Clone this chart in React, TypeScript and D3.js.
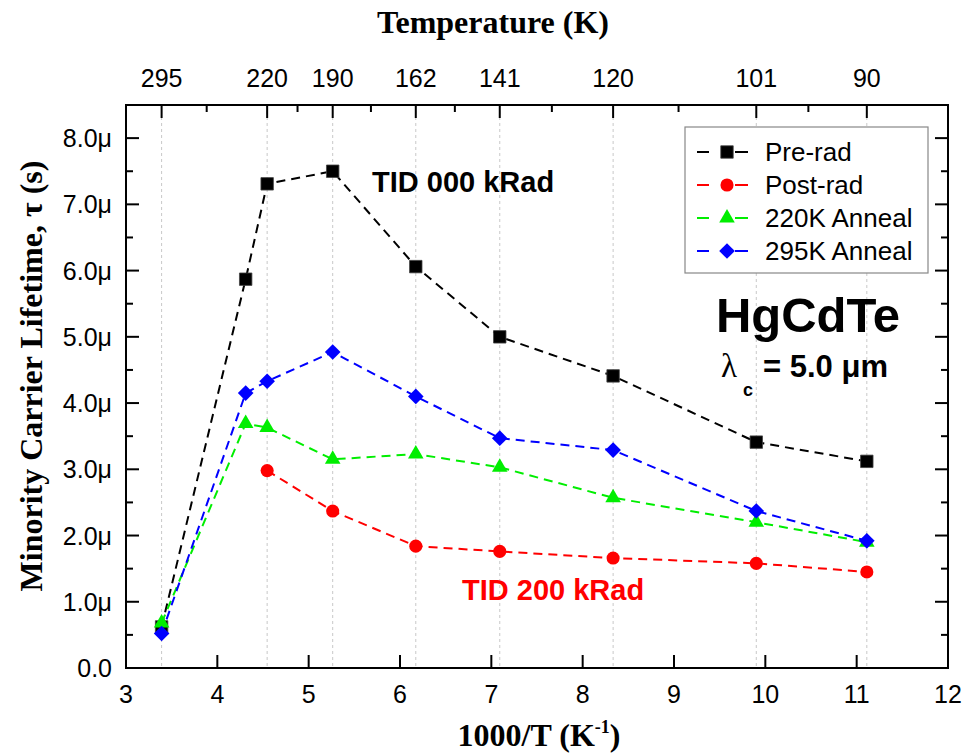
import React from 'react';
import * as d3 from 'd3';

// ---- Data (τ in μs, temperature in K) ----
const preRadT = [295, 232, 220, 190, 162, 141, 120, 101, 90];
const preRadTau = [0.62, 5.87, 7.31, 7.5, 6.06, 5.0, 4.41, 3.41, 3.12];
const postRadT = [220, 190, 162, 141, 120, 101, 90];
const postRadTau = [2.98, 2.37, 1.84, 1.76, 1.66, 1.58, 1.45];
const anneal220T = [295, 232, 220, 190, 162, 141, 120, 101, 90];
const anneal220Tau = [0.68, 3.69, 3.63, 3.15, 3.23, 3.03, 2.57, 2.2, 1.9];
const anneal295T = [295, 232, 220, 190, 162, 141, 120, 101, 90];
const anneal295Tau = [0.52, 4.15, 4.33, 4.77, 4.1, 3.47, 3.29, 2.37, 1.92];

const topMajorTemps = [295, 220, 190, 162, 141, 120, 101, 90];
const topMinorTemps = [257.5, 205, 176, 151.5, 130.5, 110.5, 95.5];
const bottomTicks = [3, 4, 5, 6, 7, 8, 9, 10, 11, 12];
const yMajor = [0, 1, 2, 3, 4, 5, 6, 7, 8];
const yMinor = [0.5, 1.5, 2.5, 3.5, 4.5, 5.5, 6.5, 7.5];

const seriesNames = ['Pre-rad', 'Post-rad', '220K Anneal', '295K Anneal'];
const seriesColors = ['#000000', '#ff0000', '#00ee00', '#0000ff'];

const W = 969, H = 754;
const L = 126, R = 948, T = 105, B = 668;

export default function App() {
  const x = d3.scaleLinear().domain([3, 12]).range([L, R]);
  const y = d3.scaleLinear().domain([0, 8.5]).range([B, T]);

  const series = [
    { t: preRadT, v: preRadTau, sym: 'square' },
    { t: postRadT, v: postRadTau, sym: 'circle' },
    { t: anneal220T, v: anneal220Tau, sym: 'triangle' },
    { t: anneal295T, v: anneal295Tau, sym: 'diamond' },
  ];

  const line = d3.line<[number, number]>().x(d => x(d[0])).y(d => y(d[1]));

  const marker = (sym: string, cx: number, cy: number, color: string, key: string) => {
    let p: string | null = null;
    let rot = 0;
    if (sym === 'square') p = d3.symbol(d3.symbolSquare, 155)();
    else if (sym === 'circle') p = d3.symbol(d3.symbolCircle, 135)();
    else if (sym === 'triangle') p = d3.symbol(d3.symbolTriangle, 105)();
    else { p = d3.symbol(d3.symbolSquare, 122)(); rot = 45; }
    return (
      <path key={key} d={p || ''} fill={color}
        stroke={sym === 'square' ? '#444' : 'none'} strokeWidth={0.8}
        transform={`translate(${cx},${cy}) rotate(${rot})`} />
    );
  };

  const sans = "'Liberation Sans', Arial, sans-serif";
  const serif = "'Liberation Serif', 'Times New Roman', serif";

  return (
    <div style={{ position: 'absolute', left: 0, top: 0 }}>
      <svg width={W} height={H} style={{ display: 'block', background: '#fff' }}>
        <rect width={W} height={H} fill="#fff" />
        {/* grid */}
        {topMajorTemps.map(tt => (
          <line key={'g' + tt} x1={x(1000 / tt)} x2={x(1000 / tt)} y1={T} y2={B}
            stroke="#c8c8c8" strokeWidth={1} strokeDasharray="3,3" />
        ))}
        {/* lines */}
        {series.map((s, i) => (
          <path key={'l' + i}
            d={line(s.t.map((tt, j) => [1000 / tt, s.v[j]] as [number, number])) || ''}
            fill="none" stroke={seriesColors[i]} strokeWidth={2} strokeDasharray="9,6" />
        ))}
        {/* markers */}
        {series.map((s, i) =>
          s.t.map((tt, j) => marker(s.sym, x(1000 / tt), y(s.v[j]), seriesColors[i], `m${i}-${j}`))
        )}
        {/* frame */}
        <rect x={L} y={T} width={R - L} height={B - T} fill="none" stroke="#000" strokeWidth={2} />
        {/* bottom ticks */}
        {bottomTicks.map(v => (
          <g key={'bt' + v}>
            {v > 3 && v < 12 && <line x1={x(v)} x2={x(v)} y1={B} y2={B - 13} stroke="#000" strokeWidth={2} />}
            <text x={x(v)} y={703} textAnchor="middle" fontFamily={sans} fontSize={25} fill="#000">{v}</text>
          </g>
        ))}
        {/* top ticks */}
        {topMajorTemps.map(tt => (
          <g key={'tt' + tt}>
            <line x1={x(1000 / tt)} x2={x(1000 / tt)} y1={T} y2={T + 13} stroke="#000" strokeWidth={2} />
            <text x={x(1000 / tt)} y={87} textAnchor="middle" fontFamily={sans} fontSize={25} fill="#000">{tt}</text>
          </g>
        ))}
        {topMinorTemps.map(tt => (
          <line key={'tm' + tt} x1={x(1000 / tt)} x2={x(1000 / tt)} y1={T} y2={T + 7} stroke="#000" strokeWidth={2} />
        ))}
        {/* left & right ticks */}
        {yMajor.map(v => (
          <g key={'ym' + v}>
            {v > 0 && <line x1={L} x2={L + 13} y1={y(v)} y2={y(v)} stroke="#000" strokeWidth={2} />}
            {v > 0 && <line x1={R} x2={R - 13} y1={y(v)} y2={y(v)} stroke="#000" strokeWidth={2} />}
            <text x={112} y={y(v)} dy="0.36em" textAnchor="end" fontFamily={sans} fontSize={25} fill="#000">
              {v === 0 ? '0.0' : `${v.toFixed(1)}μ`}
            </text>
          </g>
        ))}
        {yMinor.map(v => (
          <g key={'yn' + v}>
            <line x1={L} x2={L + 7} y1={y(v)} y2={y(v)} stroke="#000" strokeWidth={2} />
            <line x1={R} x2={R - 7} y1={y(v)} y2={y(v)} stroke="#000" strokeWidth={2} />
          </g>
        ))}
        {/* axis titles */}
        <text x={493} y={33} textAnchor="middle" fontFamily={serif} fontWeight="bold" fontSize={32} fill="#000">Temperature (K)</text>
        <text x={539} y={746} textAnchor="middle" fontFamily={serif} fontWeight="bold" fontSize={32} fill="#000">
          1000/T (K<tspan fontSize={18} dy={-13}>-1</tspan><tspan dy={13}>)</tspan>
        </text>
        <text transform={`translate(42,376) rotate(-90)`} textAnchor="middle" fontFamily={serif} fontWeight="bold" fontSize={32} fill="#000">
          Minority Carrier Lifetime, τ (s)
        </text>
        {/* annotations */}
        <text x={372} y={192} fontFamily={sans} fontWeight="bold" fontSize={29} fill="#000">TID 000 kRad</text>
        <text x={462} y={600} fontFamily={sans} fontWeight="bold" fontSize={29} fill="#ff0000">TID 200 kRad</text>
        <text x={808} y={332} textAnchor="middle" fontFamily={sans} fontWeight="bold" fontSize={49} fill="#000">HgCdTe</text>
        <text x={721} y={377} fontFamily={serif} fontSize={33} fill="#000">λ</text>
        <text x={743} y={396} fontFamily={sans} fontWeight="bold" fontSize={18} fill="#000">c</text>
        <text x={763} y={377} fontFamily={sans} fontWeight="bold" fontSize={31} fill="#000">= 5.0 μm</text>
        {/* legend */}
        <rect x={685} y={127} width={243} height={146} fill="#fff" stroke="#888" strokeWidth={1.2} />
        {seriesNames.map((n, i) => {
          const cy = 152 + i * 33;
          return (
            <g key={'lg' + i}>
              <line x1={697} x2={709} y1={cy} y2={cy} stroke={seriesColors[i]} strokeWidth={2} />
              <line x1={735} x2={748} y1={cy} y2={cy} stroke={seriesColors[i]} strokeWidth={2} />
              {marker(series[i].sym, 727, cy, seriesColors[i], 'lm' + i)}
              <text x={765} y={cy} dy="0.36em" fontFamily={sans} fontSize={26} fill="#000">{n}</text>
            </g>
          );
        })}
      </svg>
    </div>
  );
}
